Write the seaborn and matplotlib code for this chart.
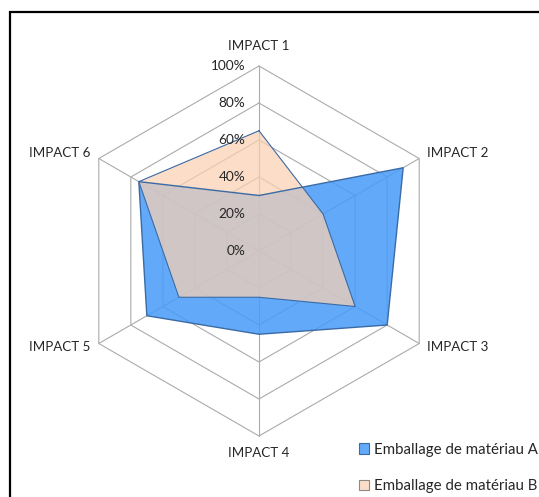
import numpy as np
import pandas as pd
import matplotlib
matplotlib.use("Agg")
import matplotlib.pyplot as plt
from matplotlib.patches import Patch, Rectangle
import seaborn as sns

# data (percent)
categories = ["IMPACT 1", "IMPACT 2", "IMPACT 3", "IMPACT 4", "IMPACT 5", "IMPACT 6"]
materiau_a = [30, 90, 80, 45, 70, 75]
materiau_b = [65, 40, 60, 25, 50, 75]
ring_values = [0, 20, 40, 60, 80, 100]
ring_labels = ["0%", "20%", "40%", "60%", "80%", "100%"]
series_names = ["Emballage de matériau A", "Emballage de matériau B"]

sns.set_theme(style="white")
plt.rcParams["font.family"] = ["Lato", "DejaVu Sans"]

blue_fill = "#479BF9"
peach_fill = "#FBD1B3"
edge_col = "#3A6BA5"
grid_col = "#ABABAB"
text_col = "#262626"

# angles: impact 1 at top, clockwise
n = len(categories)
angles = np.pi / 2 - np.arange(n) * 2 * np.pi / n


def to_xy(vals):
    vals = np.asarray(vals, dtype=float)
    x = vals * np.cos(angles)
    y = vals * np.sin(angles)
    return np.append(x, x[0]), np.append(y, y[0])


fig = plt.figure(figsize=(5.39, 4.97), dpi=100)
ax = fig.add_axes([0, 0, 1, 1])
scale = 1.85  # pixels per percent
ax.set_xlim(-259 / scale, (539 - 259) / scale)
ax.set_ylim(-(497 - 251) / scale, 251 / scale)
ax.axis("off")

# hexagonal grid
for r in ring_values[1:]:
    gx, gy = to_xy([r] * n)
    ax.plot(gx, gy, color=grid_col, lw=0.8, zorder=1)
for a in angles:
    ax.plot([0, 100 * np.cos(a)], [0, 100 * np.sin(a)], color=grid_col, lw=0.8, zorder=1)

# series
ax_x, ax_y = to_xy(materiau_a)
bx_x, bx_y = to_xy(materiau_b)
ax.fill(ax_x, ax_y, color=blue_fill, alpha=0.85, lw=0, zorder=2)
ax.fill(bx_x, bx_y, color=peach_fill, alpha=0.72, lw=0, zorder=3)

df_a = pd.DataFrame({"x": ax_x, "y": ax_y})
df_b = pd.DataFrame({"x": bx_x, "y": bx_y})
sns.lineplot(data=df_a, x="x", y="y", sort=False, estimator=None, color=edge_col, lw=1, ax=ax, zorder=4)
sns.lineplot(data=df_b, x="x", y="y", sort=False, estimator=None, color=edge_col, lw=0.8, ax=ax, zorder=4)
ax.set_xlabel("")
ax.set_ylabel("")

# radial tick labels
for r, lab in zip(ring_values, ring_labels):
    ax.text(-7.5, r, lab, ha="right", va="center", fontsize=9.8, color=text_col, zorder=5)

# category labels
label_pos = [(0, 111, "center"), (91, 53, "left"), (91, -52, "left"),
             (0, -109, "center"), (-91, -52, "right"), (-91, 53, "right")]
for (lx, ly, ha), cat in zip(label_pos, categories):
    ax.text(lx, ly, cat, ha=ha, va="center", fontsize=9.6, color=text_col)

handles = [Patch(facecolor="#64AAFA", edgecolor=edge_col, lw=0.8),
           Patch(facecolor="#FCDEC8", edgecolor="#8A8A8A", lw=0.8)]
fig.legend(handles, series_names, loc="center left", bbox_to_anchor=(0.652, 0.058),
           frameon=False, fontsize=10.8, handlelength=0.7, handleheight=0.7,
           handletextpad=0.3, labelspacing=1.5, borderpad=0)

# chart border
fig.patches.append(Rectangle((10 / 539, -0.05), 1.1, 1 - 12 / 497 + 0.05,
                             transform=fig.transFigure, fill=False,
                             edgecolor="black", lw=1.6))

fig.savefig("out.png", dpi=100)
